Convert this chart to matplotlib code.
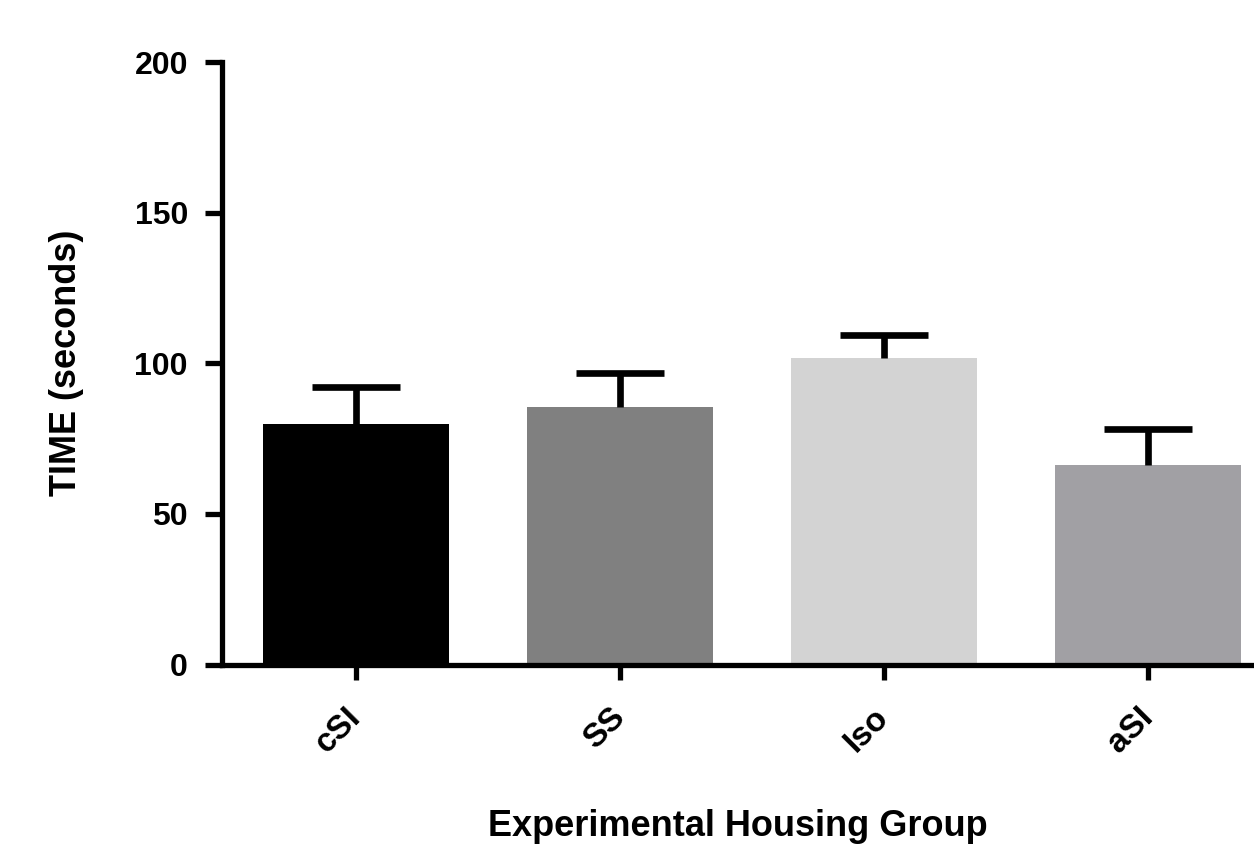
import matplotlib
matplotlib.use("Agg")
import matplotlib.pyplot as plt
import numpy as np

categories = ["cSI", "SS", "Iso", "aSI"]
means = [79.7, 85.5, 101.8, 66.3]
sem = [12.4, 11.1, 7.5, 12.0]
bar_colors = ["#000000", "#808080", "#d3d3d3", "#a1a0a4"]
y_ticks = [0, 50, 100, 150, 200]

plt.rcParams['font.family'] = ['Liberation Sans', 'DejaVu Sans']
plt.rcParams['font.weight'] = 'bold'

fig = plt.figure(figsize=(12.54, 8.51), dpi=100)
ax = fig.add_axes([222/1254, 1-664.5/851, 1-222/1254, (664.5-62)/851])

x = np.arange(len(categories))
ax.bar(x, means, width=0.705, color=bar_colors, zorder=2)
eb = ax.errorbar(x, means, yerr=[np.zeros(len(sem)), sem], fmt='none',
                 ecolor='black', elinewidth=4.8, capsize=31.5, capthick=4.8, zorder=3)
caplines = eb[1]
if len(caplines) == 2:
    caplines[0].set_visible(False)

ax.set_xlim(-0.5076, 3.4015)
ax.set_ylim(0, 200)
ax.set_yticks(y_ticks)
ax.set_xticks(x)
ax.set_xticklabels(categories, rotation=45, ha='right', va='center',
                   rotation_mode='anchor', fontsize=24, fontweight='bold')
ax.set_yticklabels([str(v) for v in y_ticks], fontsize=23, fontweight='bold')

for s in ['top', 'right']:
    ax.spines[s].set_visible(False)
for s in ['left', 'bottom']:
    ax.spines[s].set_linewidth(3.8)
ax.spines['bottom'].set_zorder(4)

ax.tick_params(axis='y', length=12.5, width=3.8, pad=12)
ax.tick_params(axis='x', length=11, width=3.8, pad=24)

ax.set_ylabel("TIME (seconds)", fontsize=26, fontweight='bold', labelpad=36)
ax.set_xlabel("Experimental Housing Group", fontsize=26, fontweight='bold', labelpad=36)

fig.savefig("out.png", dpi=100)
